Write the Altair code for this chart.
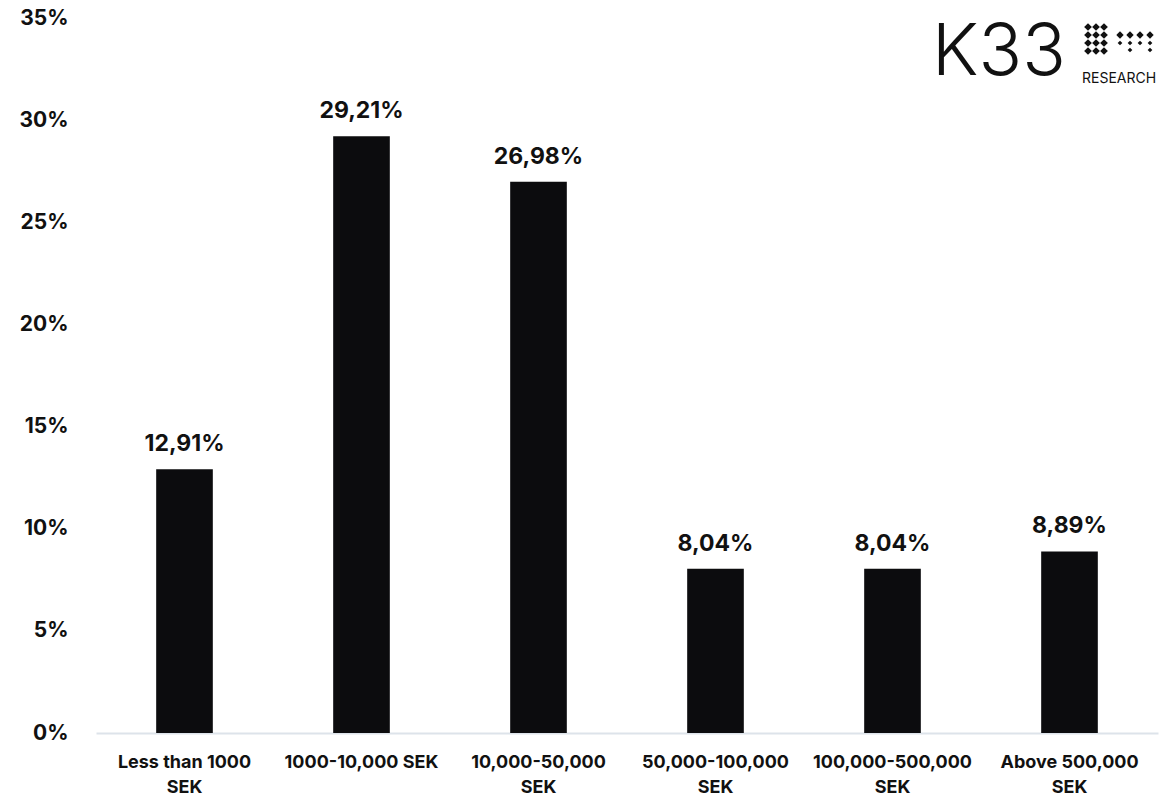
import altair as alt
import pandas as pd

categories = ["Less than 1000|SEK", "1000-10,000 SEK", "10,000-50,000|SEK",
              "50,000-100,000|SEK", "100,000-500,000|SEK", "Above 500,000|SEK"]
values = [0.1291, 0.2921, 0.2698, 0.0804, 0.0804, 0.0889]
value_labels = ["12,91%", "29,21%", "26,98%", "8,04%", "8,04%", "8,89%"]
y_ticks = [0, 0.05, 0.10, 0.15, 0.20, 0.25, 0.30, 0.35]

df = pd.DataFrame({"cat": categories, "val": values, "lab": value_labels})

FONT = "Inter"

x = alt.X("cat:N", sort=categories, title=None,
          scale=alt.Scale(paddingInner=0.68, paddingOuter=0.34),
          axis=alt.Axis(labelExpr="split(datum.label, '|')", labelAngle=0,
                        labelFont=FONT, labelFontWeight="bold", labelFontSize=18,
                        labelColor="#111111", labelPadding=20, labelLineHeight=25,
                        labelBaseline="top",
                        ticks=False, domainColor="#dde3ea", domainWidth=2))
y = alt.Y("val:Q", title=None,
          scale=alt.Scale(domain=[0, 0.35], nice=False),
          axis=alt.Axis(values=y_ticks, format=".0%", grid=False, domain=False, ticks=False,
                        labelFont=FONT, labelFontWeight="bold", labelFontSize=21,
                        labelColor="#111111", labelPadding=28))

bars = alt.Chart(df).mark_bar(color="#0c0c0e").encode(x=x, y=y)
labels = alt.Chart(df).mark_text(font=FONT, fontWeight="bold", fontSize=23, dy=-18,
                                 baseline="alphabetic", color="#111111").encode(
    x=alt.X("cat:N", sort=categories), y="val:Q", text="lab:N")

# logo (decorative)
logo_k = alt.Chart(pd.DataFrame({"t": ["K33"]})).mark_text(
    font=FONT, fontSize=72, fontWeight=300, align="left", baseline="alphabetic",
    color="#111111").encode(x=alt.value(836), y=alt.value(57), text="t:N")
logo_r = alt.Chart(pd.DataFrame({"t": ["RESEARCH"]})).mark_text(
    font=FONT, fontSize=14, align="left", baseline="alphabetic",
    color="#111111").encode(x=alt.value(986), y=alt.value(65), text="t:N")

dots = []
for r in range(4):
    for c in range(3):
        dots.append({"px": 992 + c * 8, "py": 9 + r * 8, "s": 60})
for c in range(4):
    dots.append({"px": 1024 + c * 10, "py": 17, "s": 55})
for c in range(4):
    dots.append({"px": 1024 + c * 10, "py": 25, "s": 22})
for c in [1, 3]:
    dots.append({"px": 1024 + c * 10, "py": 32, "s": 22})
logo_d = alt.Chart(pd.DataFrame(dots)).mark_point(
    shape="diamond", filled=True, color="#111111", opacity=1).encode(
    x=alt.X("px:Q", scale=None), y=alt.Y("py:Q", scale=None),
    size=alt.Size("s:Q", scale=None, legend=None))

chart = alt.layer(bars, labels, logo_k, logo_r, logo_d).properties(
    width=1062, height=715,
    background="white",
    autosize=alt.AutoSizeParams(type="none"),
    padding={"left": 96, "top": 18, "right": 5, "bottom": 62},
).configure_view(stroke=None)

chart.save("out.html", embed_options={"renderer": "svg", "actions": False})
